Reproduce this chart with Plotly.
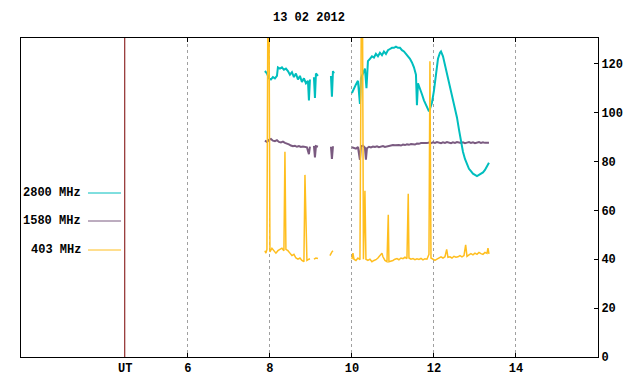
import plotly.graph_objects as go

# ---------------- data (hours UT, solar flux units) ----------------
t_2800 = [7.878, 7.927, 7.976, 8.024, 8.073, 8.122, 8.171, 8.195, 8.244, 8.293, 8.341, 8.390, 8.439,
          8.488, 8.537, 8.585, 8.634, 8.683, 8.732, 8.780, 8.829, 8.878, 8.927, 8.951, 8.976, None,
          9.073, 9.098, 9.122, 9.171, None,
          9.488, 9.512, 9.537, 9.561, None,
          10.0, 10.049, 10.098, 10.146, 10.195, 10.22, 10.268, 10.317, 10.354, 10.390, 10.439, 10.488,
          10.537, 10.585, 10.634, 10.683, 10.732, 10.780, 10.829, 10.878, 10.927, 10.976, 11.024, 11.073,
          11.122, 11.171, 11.220, 11.268, 11.317, 11.366, 11.415, 11.463, 11.512, 11.561, 11.585, 11.610,
          11.659, 11.707, 11.756, 11.805, 11.854, 11.878, 11.902, 11.951, 12.0, 12.049, 12.098, 12.146,
          12.171, 12.22, 12.268, 12.317, 12.366, 12.415, 12.463, 12.512, 12.561, 12.610, 12.659, 12.707,
          12.756, 12.805, 12.854, 12.902, 12.951, 13.0, 13.049, 13.098, 13.146, 13.195, 13.244, 13.293, 13.341]
v_2800 = [117, 116, 114, 113.5, 114.5, 114, 115, 118.5, 118, 118.5, 117.5, 118, 117,
          115.5, 116.5, 114.5, 116, 113.5, 115, 112.5, 114, 112, 113, 105, 113.5, None,
          114.5, 106, 116, 115, None,
          115, 106.5, 117, 116, None,
          108, 110, 111.5, 113, 103.5, 114, 116, 118, 110, 121, 122, 123,
          122.5, 124, 123, 124.5, 123.5, 125, 124, 125.5, 126, 126.5, 126.5, 127,
          126.5, 126.5, 125.5, 125, 124, 123, 122, 120.5, 118.5, 115.5, 103, 112,
          110, 107.5, 105, 103, 101.5, 100.5, 101.5, 104, 109, 116, 122, 124.5,
          125, 123, 119.5, 116, 112.5, 109, 105.5, 102, 98, 93, 88, 84,
          81, 79, 77, 76, 75, 74.5, 74, 74.5, 75, 75.5, 76.5, 78, 79.5]

t_1580 = [7.878, 7.927, 7.976, 8.024, 8.073, 8.122, 8.171, 8.220, 8.268, 8.317, 8.366, 8.415, 8.463,
          8.512, 8.561, 8.610, 8.659, 8.707, 8.756, 8.805, 8.854, 8.902, 8.951, 8.976, None,
          9.073, 9.098, 9.122, 9.171, None,
          9.488, 9.512, 9.537, None,
          10.0, 10.049, 10.098, 10.146, 10.195, 10.22, 10.268, 10.317, 10.341, 10.366, 10.415, 10.463,
          10.512, 10.561, 10.610, 10.659, 10.707, 10.756, 10.805, 10.854, 10.902, 10.951, 11.0, 11.049,
          11.098, 11.146, 11.195, 11.244, 11.293, 11.341, 11.390, 11.439, 11.488, 11.537, 11.585, 11.634,
          11.683, 11.732, 11.780, 11.829, 11.878, 11.927, 11.976, 12.024, 12.073, 12.122, 12.171, 12.220,
          12.268, 12.317, 12.366, 12.415, 12.463, 12.512, 12.561, 12.610, 12.659, 12.707, 12.756, 12.805,
          12.854, 12.902, 12.951, 13.0, 13.049, 13.098, 13.146, 13.195, 13.244, 13.293, 13.341]
v_1580 = [88.5, 88, 88.8, 89.2, 88.5, 88.3, 88.7, 88, 87.8, 88.1, 87.6, 87.4, 87,
          86.5, 86.2, 86.4, 86, 86.3, 85.9, 86.1, 86, 85.8, 83, 86.1, None,
          86.4, 81.6, 86.3, 86, None,
          86, 81, 86.2, None,
          85.8, 85.4, 85.2, 85.9, 80.7, 86.2, 86.5, 85.6, 80.7, 85.4, 86, 85.7,
          86.1, 85.9, 86.2, 85.8, 86, 86.3, 85.9, 86.1, 86.4, 86.5, 86.7, 86.6,
          86.8, 86.7, 86.5, 86.9, 86.7, 87, 86.8, 87.1, 87, 86.9, 87.3, 87.2,
          87.5, 87.4, 87.6, 87.5, 87.7, 87.5, 87.8, 87.6, 87.9, 87.7, 87.5, 87.8,
          87.6, 87.9, 87.7, 87.5, 87.8, 87.6, 87.9, 87.7, 87.6, 87.8, 87.5, 87.7,
          87.9, 87.6, 87.8, 87.5, 87.7, 87.9, 87.6, 87.8, 87.6, 87.7, 87.6]

t_403 = [7.878, 7.902, 7.927, 7.951, 7.976, 8.0, 8.049, 8.098, 8.146, 8.195, 8.244, 8.293, 8.341,
         8.366, 8.390, 8.439, 8.488, 8.537, 8.585, 8.634, 8.683, 8.732, 8.780, 8.829, 8.854, 8.878,
         8.902, 8.951, 8.976, None,
         9.073, 9.122, 9.171, None,
         9.463, 9.488, 9.512, 9.537, None,
         10.0, 10.024, 10.049, 10.098, 10.146, 10.195, 10.232, 10.256, 10.280, 10.317, 10.341, 10.390,
         10.439, 10.488, 10.537, 10.585, 10.634, 10.683, 10.732, 10.756, 10.805, 10.854, 10.886, 10.902,
         10.951, 11.0, 11.049, 11.098, 11.146, 11.195, 11.244, 11.293, 11.341, 11.373, 11.390, 11.439,
         11.488, 11.537, 11.585, 11.634, 11.683, 11.732, 11.780, 11.829, 11.878, 11.902, 11.927, 11.976,
         12.024, 12.073, 12.122, 12.171, 12.220, 12.268, 12.310, 12.341, 12.390, 12.439, 12.488, 12.537,
         12.585, 12.634, 12.683, 12.732, 12.773, 12.805, 12.854, 12.902, 12.951, 13.0, 13.049, 13.098,
         13.146, 13.195, 13.244, 13.293, 13.317, 13.341]
v_403 = [43.5, 42.5, 44, 150, 150, 43, 44.5, 43.5, 42.5, 43.5, 44, 44.5, 43.5,
         84, 44, 43.5, 42.5, 41.5, 42, 40.5, 40, 40.5, 39.5, 39, 74.5, 57,
         39.5, 40, 40.2, None,
         40, 40.5, 40.3, None,
         41.5, 42.5, 43, 43.5, None,
         40, 42.5, 40, 39.5, 40.5, 39.8, 150, 150, 40, 68, 40, 39.5,
         40, 39, 39.5, 39.8, 40.5, 41.5, 42.5, 41, 39.5, 39, 58.2, 39,
         39.2, 39.5, 40, 40.3, 39.8, 40.5, 40.2, 40.8, 40.3, 66.8, 40.5, 40,
         40.3, 39.8, 40.2, 39.9, 40.3, 39.7, 40.2, 40, 42, 121, 40.5, 40,
         39.5, 40, 40.5, 41, 40.5, 41, 44, 40.8, 41, 40.5, 41.2, 40.8,
         41, 41.5, 41, 41.5, 45.9, 41.2, 41.8, 42.3, 41.8, 42.5, 42, 42.8,
         42.3, 42, 42.8, 42.4, 44.5, 42.2]

series_names = ["2800 MHz", "1580 MHz", "403 MHz"]
x_ticks = [6, 8, 10, 12, 14]
y_ticks = [0, 20, 40, 60, 80, 100, 120]
ut_position = 4.46
title_text = "13 02 2012"

# ---------------- styling ----------------
C_2800 = "rgb(0,190,190)"
C_1580 = "rgb(122,90,128)"
C_403 = "rgb(255,190,30)"
FONT = "Liberation Mono"

fig = go.Figure()
fig.add_trace(go.Scatter(x=t_1580, y=v_1580, mode="lines", line=dict(color=C_1580, width=2),
                         name=series_names[1], connectgaps=False))
fig.add_trace(go.Scatter(x=t_2800, y=v_2800, mode="lines", line=dict(color=C_2800, width=2),
                         name=series_names[0], connectgaps=False))
fig.add_trace(go.Scatter(x=t_403, y=v_403, mode="lines", line=dict(color=C_403, width=1.5),
                         name=series_names[2], connectgaps=False))

fig.update_layout(
    width=640, height=384,
    margin=dict(l=21, r=42, t=38, b=27, autoexpand=False),
    paper_bgcolor="white", plot_bgcolor="white",
    showlegend=False,
    font=dict(family=FONT, size=11, color="black", weight="bold"),
)

fig.update_xaxes(
    range=[1.93, 16.0], tickvals=x_ticks, ticktext=[str(v) for v in x_ticks],
    showgrid=True, gridcolor="rgb(160,160,160)", griddash="dot", gridwidth=1,
    showline=True, linecolor="black", linewidth=1, mirror="ticks",
    ticks="inside", ticklen=4, tickcolor="black", zeroline=False,
    tickfont=dict(family=FONT, size=12, color="black", weight="bold"),
)
fig.update_yaxes(
    range=[0, 130.5], tickvals=y_ticks, side="right",
    showgrid=False, showline=True, linecolor="black", linewidth=1, mirror=True,
    ticks="inside", ticklen=4, tickcolor="black", zeroline=False,
    tickfont=dict(family=FONT, size=12, color="black", weight="bold"),
)

# UT reference line and label
fig.add_shape(type="line", x0=ut_position, x1=ut_position, y0=0, y1=1, xref="x", yref="paper",
              line=dict(color="rgb(120,0,0)", width=1))
fig.add_annotation(x=ut_position, y=-0.038, xref="x", yref="paper", text="UT", showarrow=False,
                   font=dict(family=FONT, size=12, color="black", weight="bold"), yanchor="middle")

# title
fig.add_annotation(x=0.499, y=1.0627, xref="paper", yref="paper", text=title_text, showarrow=False,
                   font=dict(family=FONT, size=12, color="black", weight="bold"), yanchor="middle")

# key
key_rows = [(0.5141, C_2800, series_names[0]), (0.4263, C_1580, series_names[1]), (0.3354, C_403, series_names[2])]
for yk, col, name in key_rows:
    fig.add_annotation(x=0.1075, y=yk, xref="paper", yref="paper", text=name, showarrow=False,
                       xanchor="right", yanchor="middle",
                       font=dict(family=FONT, size=12, color="black", weight="bold"))
    fig.add_shape(type="line", x0=0.1161, x1=0.1733, y0=yk, y1=yk, xref="paper", yref="paper",
                  line=dict(color=col, width=1))

fig.write_html("out.html", config={"displayModeBar": False},
               post_script="document.body.style.margin='0';document.body.style.padding='0';")
